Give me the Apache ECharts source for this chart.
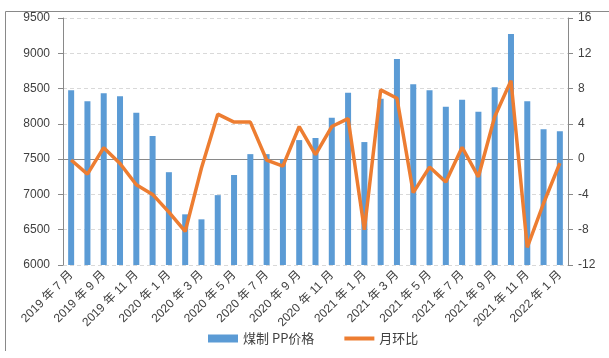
<!DOCTYPE html>
<html>
<head>
<meta charset="utf-8">
<script src="https://cdn.jsdelivr.net/npm/echarts@6/dist/echarts.min.js"></script>
<style>html,body{margin:0;padding:0;background:#fff;}#c{width:609px;height:358px;}</style>
</head>
<body>
<div id="c"></div>
<script>
var categories = ['2019 年 7 月','2019 年 8 月','2019 年 9 月','2019 年 10 月','2019 年 11 月','2019 年 12 月',
  '2020 年 1 月','2020 年 2 月','2020 年 3 月','2020 年 4 月','2020 年 5 月','2020 年 6 月',
  '2020 年 7 月','2020 年 8 月','2020 年 9 月','2020 年 10 月','2020 年 11 月','2020 年 12 月',
  '2021 年 1 月','2021 年 2 月','2021 年 3 月','2021 年 4 月','2021 年 5 月','2021 年 6 月',
  '2021 年 7 月','2021 年 8 月','2021 年 9 月','2021 年 10 月','2021 年 11 月','2021 年 12 月','2022 年 1 月'];
var priceValues = [8476,8320,8434,8391,8156,7829,7315,6718,6647,6990,7275,7571,7571,7500,7770,7800,
  8085,8441,7742,8356,8919,8562,8476,8242,8342,8171,8519,9272,8320,7924,7896];
var momValues = [-0.1,-1.7,1.3,-0.5,-2.9,-4.0,-6.0,-8.2,-1.0,5.1,4.2,4.2,-0.1,-0.8,3.7,0.5,
  3.7,4.6,-8.0,7.85,6.9,-3.8,-0.9,-2.6,1.35,-2.0,4.8,8.9,-10.0,-5.0,-0.45];
var leftTicks = {min:6000, max:9500, interval:500};
var rightTicks = {min:-12, max:16, interval:4};

var font = 'Liberation Sans, "Noto Sans CJK SC", sans-serif';
var axisColor = '#898989';
var chart = echarts.init(document.getElementById('c'), null, {renderer:'canvas'});
chart.setOption({
  animation:false,
  backgroundColor:'#fff',
  textStyle:{fontFamily:font},
  graphic:[{type:'polyline', shape:{points:[[5.5,351],[5.5,11.5],[609,11.5]]}, style:{stroke:axisColor, lineWidth:1, fill:null}, silent:true}],
  grid:{left:63, right:41, top:18, bottom:93, containLabel:false},
  legend:{
    left:203, top:327, itemWidth:30, itemHeight:8, itemGap:30,
    textStyle:{fontSize:13, color:'#404040', fontFamily:'"Noto Sans CJK SC", sans-serif'},
    data:[{name:'煤制 PP价格', icon:'rect'},{name:'月环比', icon:'path://M0,0 h30 v4 h-30 Z'}]
  },
  xAxis:{
    type:'category', data:categories, boundaryGap:true,
    axisLine:{lineStyle:{color:axisColor}},
    axisTick:{interval:0, length:5, lineStyle:{color:axisColor}},
    axisLabel:{interval:1, rotate:45, fontSize:12, color:'#404040', margin:8, fontFamily:font}
  },
  yAxis:[{
    type:'value', min:leftTicks.min, max:leftTicks.max, interval:leftTicks.interval,
    axisLine:{show:true, lineStyle:{color:axisColor}},
    axisTick:{show:true, length:5, lineStyle:{color:axisColor}},
    axisLabel:{fontSize:12, color:'#404040', margin:13, formatter:function(v){return String(v);}},
    splitLine:{lineStyle:{color:'#D9D9D9', type:[4,3]}}
  },{
    type:'value', min:rightTicks.min, max:rightTicks.max, interval:rightTicks.interval,
    axisLine:{show:true, lineStyle:{color:axisColor}},
    axisTick:{show:true, length:5, lineStyle:{color:axisColor}},
    axisLabel:{fontSize:12, color:'#404040', margin:10, formatter:function(v){return String(v);}},
    splitLine:{show:false}
  }],
  series:[{
    name:'煤制 PP价格', type:'bar', data:priceValues, barWidth:6,
    itemStyle:{color:'#5B9BD5'}
  },{
    name:'月环比', type:'line', yAxisIndex:1, data:momValues, symbol:'none',
    lineStyle:{color:'#ED7D31', width:3.5}, itemStyle:{color:'#ED7D31'}
  }]
});
</script>
</body>
</html>
